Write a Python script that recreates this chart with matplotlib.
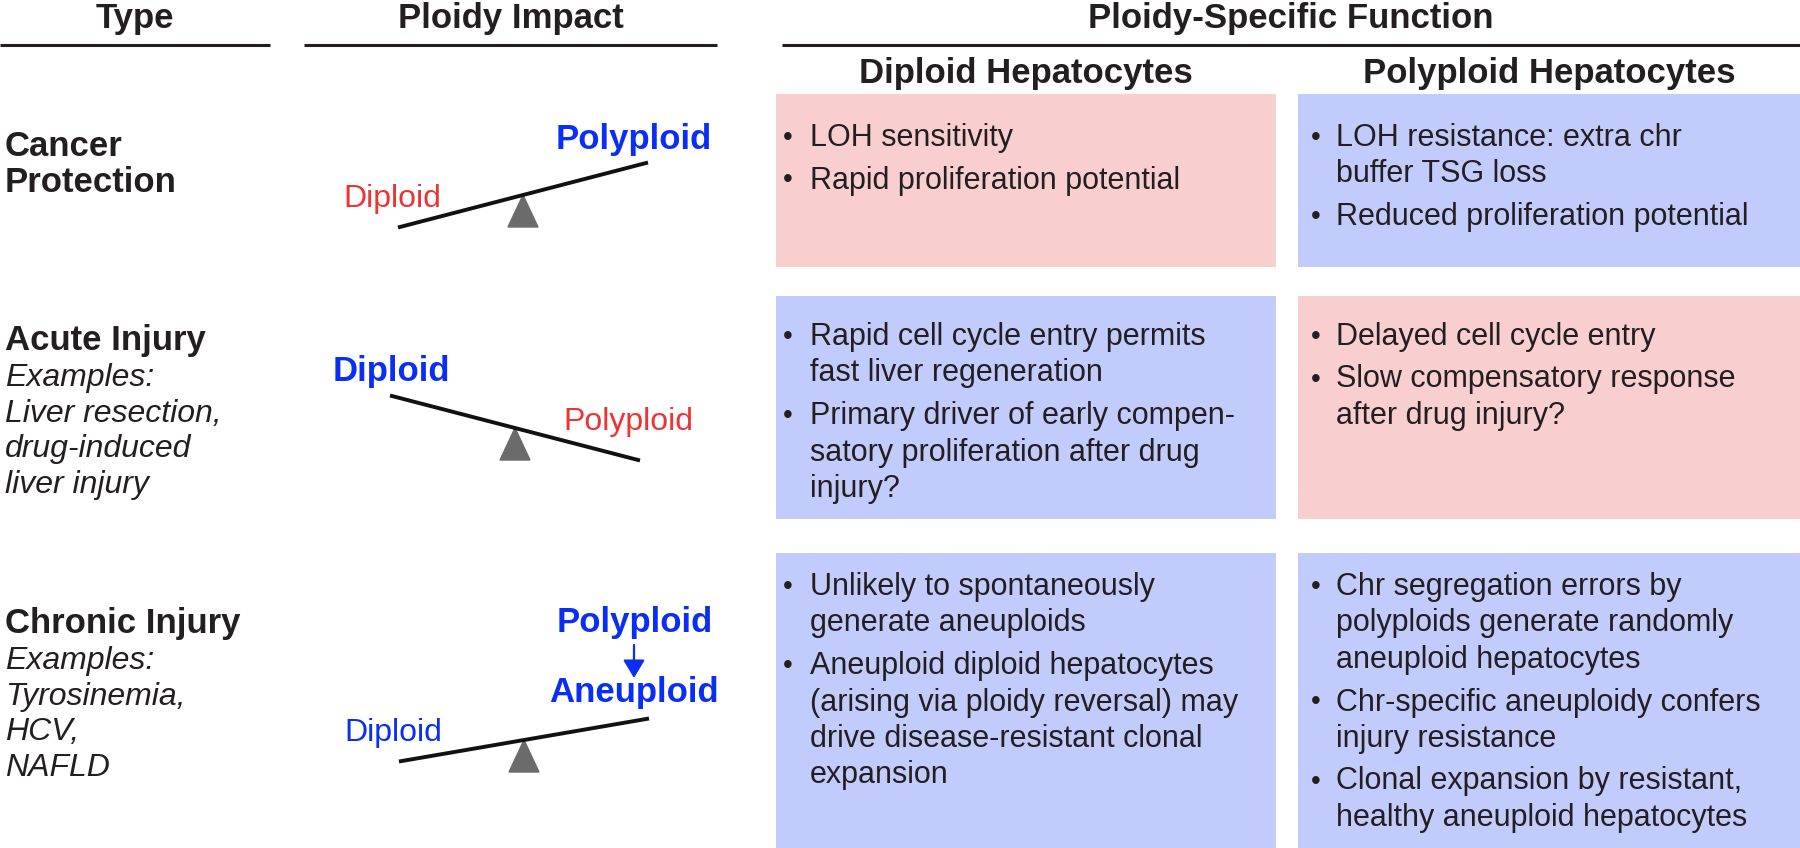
import matplotlib
matplotlib.use('Agg')
import matplotlib.pyplot as plt
from matplotlib.patches import Rectangle, Polygon

plt.rcParams['font.family'] = ['Liberation Sans', 'DejaVu Sans']

# ---- data (text content) ----
headers = ['Type', 'Ploidy Impact', 'Ploidy-Specific Function']
sub_headers = ['Diploid Hepatocytes', 'Polyploid Hepatocytes']

row_titles = [['Cancer', 'Protection'], ['Acute Injury'], ['Chronic Injury']]
row_examples = [[],
                ['Examples:', 'Liver resection,', 'drug-induced', 'liver injury'],
                ['Examples:', 'Tyrosinemia,', 'HCV,', 'NAFLD']]

# balance: left label, right label, which side is favoured (bold), colours
left_labels = ['Diploid', 'Diploid', 'Diploid']
right_labels = ['Polyploid', 'Polyploid', 'Aneuploid']
left_bold = [False, True, False]
right_bold = [True, False, True]
left_colors = ['red', 'blue', 'blue']
right_colors = ['blue', 'red', 'blue']
beam_tilt = [-65, 65, -43]   # right end minus left end (pixel rise)

diploid_text = [
    [['LOH sensitivity'], ['Rapid proliferation potential']],
    [['Rapid cell cycle entry permits', 'fast liver regeneration'],
     ['Primary driver of early compen-', 'satory proliferation after drug', 'injury?']],
    [['Unlikely to spontaneously', 'generate aneuploids'],
     ['Aneuploid diploid hepatocytes', '(arising via ploidy reversal) may',
      'drive disease-resistant clonal', 'expansion']],
]
polyploid_text = [
    [['LOH resistance: extra chr', 'buffer TSG loss'], ['Reduced proliferation potential']],
    [['Delayed cell cycle entry'], ['Slow compensatory response', 'after drug injury?']],
    [['Chr segregation errors by', 'polyploids generate randomly', 'aneuploid hepatocytes'],
     ['Chr-specific aneuploidy confers', 'injury resistance'],
     ['Clonal expansion by resistant,', 'healthy aneuploid hepatocytes']],
]
diploid_box = ['pink', 'blue', 'blue']
polyploid_box = ['blue', 'pink', 'blue']

# ---- styles ----
colors = {'red': '#EE3333', 'blue': '#0A2EF5'}
box_fill = {'pink': '#F9CECE', 'blue': '#C1CBFC'}
txt = '#231F20'

fig = plt.figure(figsize=(18, 8.48), dpi=100)
ax = fig.add_axes([0, 0, 1, 1])
ax.set_xlim(0, 1800)
ax.set_ylim(848, 0)
ax.axis('off')

# header
head_x = [135, 511, 1291]
head_lines = [(0, 270), (304, 717), (782, 1800)]
for h, x, (a, b) in zip(headers, head_x, head_lines):
    ax.text(x, 28, h, ha='center', va='baseline', fontsize=25, fontweight='bold', color=txt)
    ax.plot([a, b], [45, 45], color=txt, lw=2.2, solid_capstyle='butt')

col_x = [(776, 1276), (1298, 1800)]
for s, (a, b) in zip(sub_headers, col_x):
    ax.text((a + b) / 2, 83, s, ha='center', va='baseline', fontsize=25,
            fontweight='bold', color=txt)

row_box = [(94, 267), (296, 519), (553, 848)]
first_base = [146, 345, 595]
title_base = [156, 350, 633]
line_step = 36.5
item_step = 42.5

# row titles
for i in range(3):
    y = title_base[i]
    for t in row_titles[i]:
        ax.text(5, y, t, ha='left', va='baseline', fontsize=25, fontweight='bold', color=txt)
        y += 36
    for t in row_examples[i]:
        ax.text(5, y, t, ha='left', va='baseline', fontsize=23, style='italic', color=txt)
        y += 35.5

# balances
pivot = [(523, 195), (515, 428), (524, 740)]
half = 125
for i in range(3):
    px, py = pivot[i]
    slope = beam_tilt[i] / (2 * half)
    x0, x1 = px - half, px + half
    y0, y1 = py - slope * half, py + slope * half
    ax.plot([x0, x1], [y0, y1], color='#111111', lw=2.8, solid_capstyle='butt', zorder=3)
    ax.add_patch(Polygon([(px - 15, py + 32), (px + 15, py + 32), (px, py)],
                         closed=True, color='#6B6B6B', zorder=2))

    lw = 'bold' if left_bold[i] else 'normal'
    ax.text(x0 - 57 if left_bold[i] else x0 - 55, y0 - 14 if left_bold[i] else y0 - 21,
            left_labels[i], ha='left', va='baseline', fontsize=25 if left_bold[i] else 23,
            fontweight=lw, color=colors[left_colors[i]])

# right-hand labels
ax.text(556, 149, right_labels[0], ha='left', va='baseline', fontsize=25,
        fontweight='bold', color=colors[right_colors[0]])
ax.text(563, 430, right_labels[1], ha='left', va='baseline', fontsize=23,
        color=colors[right_colors[1]])
ax.text(635, 632, 'Polyploid', ha='center', va='baseline', fontsize=25,
        fontweight='bold', color=colors['blue'])
ax.text(634, 702, right_labels[2], ha='center', va='baseline', fontsize=25,
        fontweight='bold', color=colors['blue'])
ax.annotate('', xy=(634, 678), xytext=(634, 645),
            arrowprops=dict(arrowstyle='-|>,head_length=0.5,head_width=0.3',
                            color=colors['blue'], lw=1.6, shrinkA=0, shrinkB=0,
                            mutation_scale=22))


def draw_box(x0, x1, top, bottom, fill, items, y_first, bx, tx):
    ax.add_patch(Rectangle((x0, top), x1 - x0, bottom - top, facecolor=box_fill[fill],
                           edgecolor='none', zorder=1))
    y = y_first
    for k, item in enumerate(items):
        if k > 0:
            y += item_step
        ax.text(x0 + bx, y - 8, '\u2022', ha='center', va='center', fontsize=20, color=txt)
        for j, line in enumerate(item):
            if j > 0:
                y += line_step
            ax.text(x0 + tx, y, line, ha='left', va='baseline', fontsize=22, color=txt)


for i in range(3):
    top, bottom = row_box[i]
    draw_box(776, 1276, top, bottom, diploid_box[i], diploid_text[i], first_base[i], 12, 34)
    draw_box(1298, 1800, top, bottom, polyploid_box[i], polyploid_text[i], first_base[i], 18, 38)

fig.savefig('out.png', dpi=100)
